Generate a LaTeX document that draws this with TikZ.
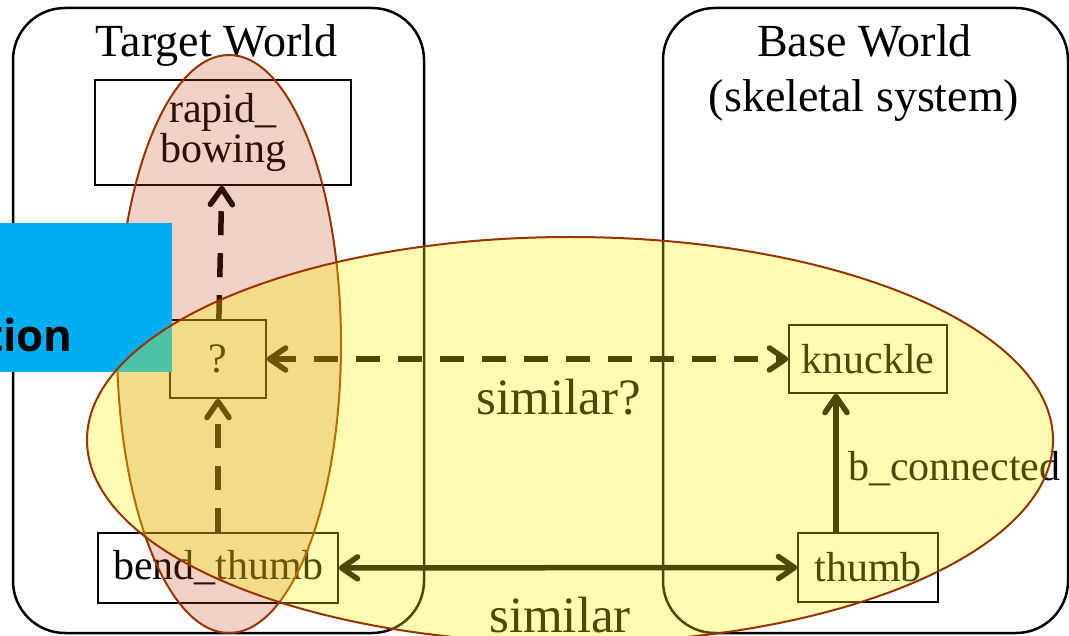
\documentclass[tikz,border=0pt]{standalone}
\usepackage{fontspec}
\setmainfont{Liberation Serif}
\newfontfamily\tionfont{Open Sans}
\usetikzlibrary{arrows.meta}
\definecolor{redfill}{RGB}{192,64,16}
\definecolor{ellline}{RGB}{153,51,0}
\definecolor{bluebox}{RGB}{0,174,239}
\begin{document}
\begin{tikzpicture}[x=1pt,y=-1pt,
  >={Straight Barb[length=16pt,width=22pt,line cap=round,line join=round]},
  box/.style={draw=black, line width=1.6pt, inner sep=0pt, font=\fontsize{42}{40}\selectfont, align=center},
  world/.style={draw=black, line width=2.5pt, rounded corners=52pt},
  conn/.style={line width=5.5pt},
  dashy/.style={dash pattern=on 24pt off 18pt},
  title/.style={font=\fontsize{46}{55}\selectfont, inner sep=0pt, anchor=base},
  lab/.style={font=\fontsize{51}{55}\selectfont, inner sep=0pt, anchor=base},
  ell/.style={draw=ellline, line width=2pt}]

\useasboundingbox (0,0) rectangle (1069,636);

% worlds
\draw[world] (13,8) rectangle (424,633);
\draw[world] (663,8) rectangle (1068,633);
\node[title] (tw) at (216.5,57) {Target World};
\node[title] (bw) at (864.5,57) {Base World};
\node[title] (bws) at (864,112) {(skeletal system)};

% nodes
\node[box, minimum width=256, minimum height=105] (rb) at (223,132.5) {rapid\_\\bowing};
\node[box, minimum width=96, minimum height=78] (q) at (218,359) {?};
\node[box, minimum width=158, minimum height=68] (kn) at (868,359) {knuckle};
\node[box, minimum width=140, minimum height=69] (th) at (868,567.5) {thumb};
\node[box, minimum width=240, minimum height=70] (bt) at (218,568) {bend\_thumb};

% connectors
\draw[conn,dashy,->] (q) -- (rb);
\draw[conn,dashy,->] (bt) -- (q);
\draw[conn,dashy,<->] (q) -- (kn);
\draw[conn,<->] (bt) -- (th);
\draw[conn,->] ([xshift=-32pt]th.north) -- ([xshift=-32pt]kn.south);

% labels
\node[lab] (sq) at (558.5,415) {similar?};
\node[lab] (s) at (560,632) {similar};
\node[font=\fontsize{42}{44}\selectfont, inner sep=0pt, anchor=base west] (bc) at (848,480) {b\_connected};

% red ellipse
\draw[ell, fill=redfill, fill opacity=0.24] (229,344) ellipse [x radius=112, y radius=289];

% blue box
\fill[bluebox] (0,223) rectangle (171.5,372);
\node[font=\tionfont\bfseries\fontsize{44}{48}\selectfont, anchor=base east, inner sep=0pt] (tion) at (73,352) {tion};

% yellow ellipse
\draw[ell, fill=yellow, fill opacity=0.3] (570,440) ellipse [x radius=483, y radius=203];
\end{tikzpicture}
\end{document}
